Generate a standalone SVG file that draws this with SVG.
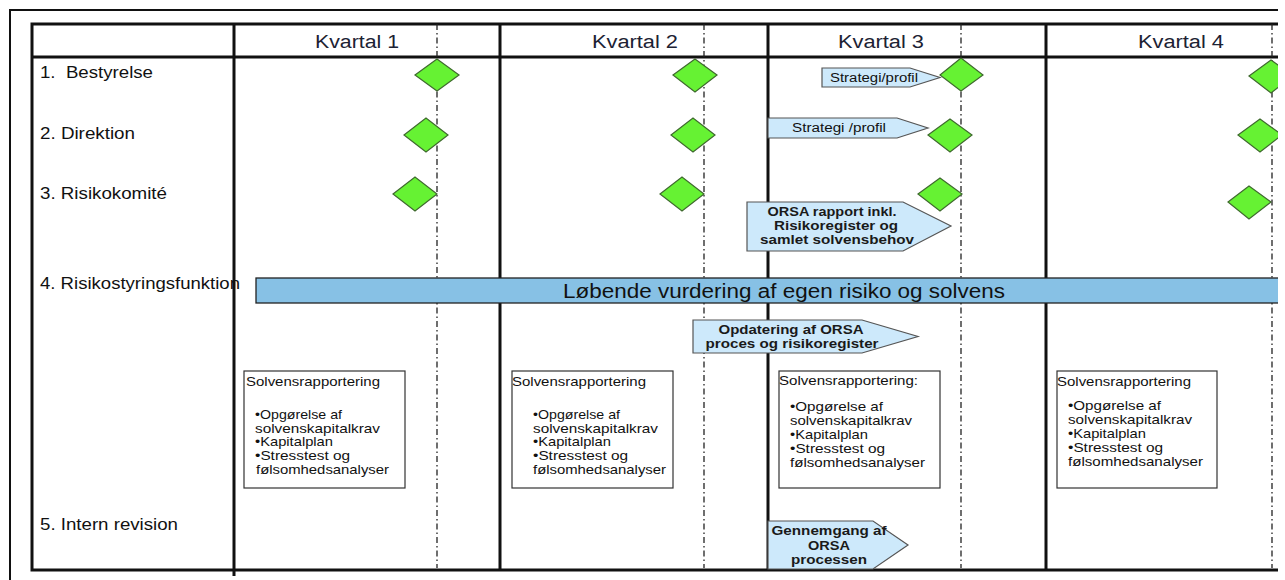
<svg xmlns="http://www.w3.org/2000/svg" width="1285" height="580" viewBox="0 0 1285 580">
<defs>
<clipPath id="cut"><rect x="0" y="0" width="1278" height="580"/></clipPath>
</defs>
<style>
.frame{fill:none;stroke:#111;stroke-width:2}
.thick{stroke:#111;stroke-width:3;fill:none}
.dot{stroke:#222;stroke-width:1.3;stroke-dasharray:6 3 1.5 3;fill:none}
.dia{fill:#66f233;stroke:#3f6a2e;stroke-width:1.2}
.call{fill:#cde9fb;stroke:#555;stroke-width:1.2}
.box{fill:#fff;stroke:#333;stroke-width:1.2}
.bar{fill:#87c1e5;stroke:#222;stroke-width:1.3}
text{font-family:"Liberation Sans",Arial,sans-serif}
.hdr{font-size:18px;fill:#1c2233;text-anchor:middle}
.lbl{font-size:16px;fill:#111}
.ct{font-size:12px;fill:#111;text-anchor:middle}
.cb{font-size:12.5px;font-weight:bold;fill:#1a1a1a;text-anchor:middle}
.bt{font-size:13px;fill:#111}
.big{font-size:20px;fill:#111;text-anchor:middle}
</style>
<rect width="1285" height="580" fill="#fff"/>
<g clip-path="url(#cut)">
<g id="frame">
<path class="frame" d="M10,580 L10,10 L1285,10"/>
<path class="thick" d="M1285,24 L32,24 L32,570 L1285,570"/>
<path class="thick" d="M32,57 L1285,57"/>
<path class="thick" d="M234,24 L234,576"/>
<path class="thick" d="M500,24 L500,570"/>
<path class="thick" d="M768,24 L768,570"/>
<path class="thick" d="M1046,24 L1046,570"/>
<path class="dot" d="M437,24 L437,568 M704,24 L704,568 M961,24 L961,568 M1272,24 L1272,568"/>
</g>
<g id="headers">
<text class="hdr" x="357" y="48" textLength="84" lengthAdjust="spacingAndGlyphs">Kvartal 1</text>
<text class="hdr" x="635" y="48" textLength="86" lengthAdjust="spacingAndGlyphs">Kvartal 2</text>
<text class="hdr" x="881" y="48" textLength="86" lengthAdjust="spacingAndGlyphs">Kvartal 3</text>
<text class="hdr" x="1181" y="48" textLength="86" lengthAdjust="spacingAndGlyphs">Kvartal 4</text>
</g>
<g id="rowlabels">
<text class="lbl" x="40" y="78" xml:space="preserve" textLength="113" lengthAdjust="spacingAndGlyphs">1.  Bestyrelse</text>
<text class="lbl" x="40" y="139" textLength="95" lengthAdjust="spacingAndGlyphs">2. Direktion</text>
<text class="lbl" x="40" y="199" textLength="127" lengthAdjust="spacingAndGlyphs">3. Risikokomité</text>
<text class="lbl" x="40" y="289" textLength="200" lengthAdjust="spacingAndGlyphs">4. Risikostyringsfunktion</text>
<text class="lbl" x="40" y="530" textLength="138" lengthAdjust="spacingAndGlyphs">5. Intern revision</text>
</g>
<g id="diamonds">
<polygon class="dia" points="415,75 437,59 459,75 437,91"/>
<polygon class="dia" points="404,135 426,118 448,135 426,152"/>
<polygon class="dia" points="393,194 415,177 437,194 415,211"/>
<polygon class="dia" points="673,75 695,59 717,75 695,92"/>
<polygon class="dia" points="671,135 693,118 715,135 693,152"/>
<polygon class="dia" points="660,194 682,177 704,194 682,211"/>
<polygon class="dia" points="940,75 961,58 983,75 961,91"/>
<polygon class="dia" points="928,135 950,119 972,135 950,152"/>
<polygon class="dia" points="918,194 940,178 962,194 940,211"/>
<polygon class="dia" points="1249,76 1271,60 1293,76 1271,93"/>
<polygon class="dia" points="1238,135 1260,119 1282,135 1260,152"/>
<polygon class="dia" points="1228,202 1249,186 1271,202 1249,219"/>
</g>
<g id="bar">
<rect class="bar" x="256" y="278" width="1030" height="25"/>
<text class="big" x="784" y="298" textLength="442" lengthAdjust="spacingAndGlyphs">Løbende vurdering af egen risiko og solvens</text>
</g>
<g id="callouts">
<g id="strategi1">
<path class="call" d="M822,68 L910,68 L940,77.5 L910,87 L822,87 Z"/>
<text class="ct" x="874" y="82" textLength="88" lengthAdjust="spacingAndGlyphs">Strategi/profil</text>
</g>
<g id="strategi2">
<path class="call" d="M768,118 L897,118 L928,128 L897,138 L768,138 Z"/>
<text class="ct" x="839" y="132" textLength="94" lengthAdjust="spacingAndGlyphs">Strategi /profil</text>
</g>
<g id="orsa">
<path class="call" d="M747,202 L903,202 L951,226 L903,251 L747,251 Z"/>
<text class="cb" x="832" y="216" textLength="129" lengthAdjust="spacingAndGlyphs">ORSA rapport inkl.</text>
<text class="cb" x="836" y="230" textLength="124" lengthAdjust="spacingAndGlyphs">Risikoregister og</text>
<text class="cb" x="837" y="244" textLength="154" lengthAdjust="spacingAndGlyphs">samlet solvensbehov</text>
</g>
<g id="opdatering">
<path class="call" d="M693,320 L862,320 L918,336.5 L862,353 L693,353 Z"/>
<text class="cb" x="791" y="334" textLength="145" lengthAdjust="spacingAndGlyphs">Opdatering af ORSA</text>
<text class="cb" x="792" y="348" textLength="173" lengthAdjust="spacingAndGlyphs">proces og risikoregister</text>
</g>
<g id="gennemgang">
<path class="call" d="M768,521 L873,521 L908,545 L873,569 L768,569 Z"/>
<text class="cb" x="829" y="535" textLength="115" lengthAdjust="spacingAndGlyphs">Gennemgang af</text>
<text class="cb" x="829" y="550" textLength="42" lengthAdjust="spacingAndGlyphs">ORSA</text>
<text class="cb" x="829" y="564" textLength="76" lengthAdjust="spacingAndGlyphs">processen</text>
</g>
</g>
<g id="solvens1">
<rect class="box" x="244" y="371" width="161" height="117"/>
<text class="bt" x="246" y="386" textLength="134" lengthAdjust="spacingAndGlyphs">Solvensrapportering</text>
<text class="bt" x="255" y="419" textLength="87" lengthAdjust="spacingAndGlyphs">•Opgørelse af</text>
<text class="bt" x="255" y="433" textLength="125" lengthAdjust="spacingAndGlyphs">solvenskapitalkrav</text>
<text class="bt" x="255" y="446" textLength="78" lengthAdjust="spacingAndGlyphs">•Kapitalplan</text>
<text class="bt" x="255" y="460" textLength="95" lengthAdjust="spacingAndGlyphs">•Stresstest og</text>
<text class="bt" x="256" y="474" textLength="133" lengthAdjust="spacingAndGlyphs">følsomhedsanalyser</text>
</g>
<g id="solvens2">
<rect class="box" x="512" y="371" width="161" height="117"/>
<text class="bt" x="512" y="386" textLength="134" lengthAdjust="spacingAndGlyphs">Solvensrapportering</text>
<text class="bt" x="533" y="419" textLength="87" lengthAdjust="spacingAndGlyphs">•Opgørelse af</text>
<text class="bt" x="533" y="433" textLength="125" lengthAdjust="spacingAndGlyphs">solvenskapitalkrav</text>
<text class="bt" x="533" y="446" textLength="78" lengthAdjust="spacingAndGlyphs">•Kapitalplan</text>
<text class="bt" x="533" y="460" textLength="95" lengthAdjust="spacingAndGlyphs">•Stresstest og</text>
<text class="bt" x="533" y="474" textLength="133" lengthAdjust="spacingAndGlyphs">følsomhedsanalyser</text>
</g>
<g id="solvens3">
<rect class="box" x="779" y="371" width="161" height="117"/>
<text class="bt" x="779" y="385" textLength="139" lengthAdjust="spacingAndGlyphs">Solvensrapportering:</text>
<text class="bt" x="790" y="411" textLength="93" lengthAdjust="spacingAndGlyphs">•Opgørelse af</text>
<text class="bt" x="790" y="425" textLength="122" lengthAdjust="spacingAndGlyphs">solvenskapitalkrav</text>
<text class="bt" x="790" y="439" textLength="78" lengthAdjust="spacingAndGlyphs">•Kapitalplan</text>
<text class="bt" x="790" y="453" textLength="95" lengthAdjust="spacingAndGlyphs">•Stresstest og</text>
<text class="bt" x="790" y="467" textLength="135" lengthAdjust="spacingAndGlyphs">følsomhedsanalyser</text>
</g>
<g id="solvens4">
<rect class="box" x="1057" y="371" width="160" height="117"/>
<text class="bt" x="1057" y="386" textLength="134" lengthAdjust="spacingAndGlyphs">Solvensrapportering</text>
<text class="bt" x="1068" y="410" textLength="93" lengthAdjust="spacingAndGlyphs">•Opgørelse af</text>
<text class="bt" x="1068" y="424" textLength="124" lengthAdjust="spacingAndGlyphs">solvenskapitalkrav</text>
<text class="bt" x="1068" y="438" textLength="78" lengthAdjust="spacingAndGlyphs">•Kapitalplan</text>
<text class="bt" x="1068" y="452" textLength="95" lengthAdjust="spacingAndGlyphs">•Stresstest og</text>
<text class="bt" x="1068" y="466" textLength="135" lengthAdjust="spacingAndGlyphs">følsomhedsanalyser</text>
</g>
</g>
</svg>
